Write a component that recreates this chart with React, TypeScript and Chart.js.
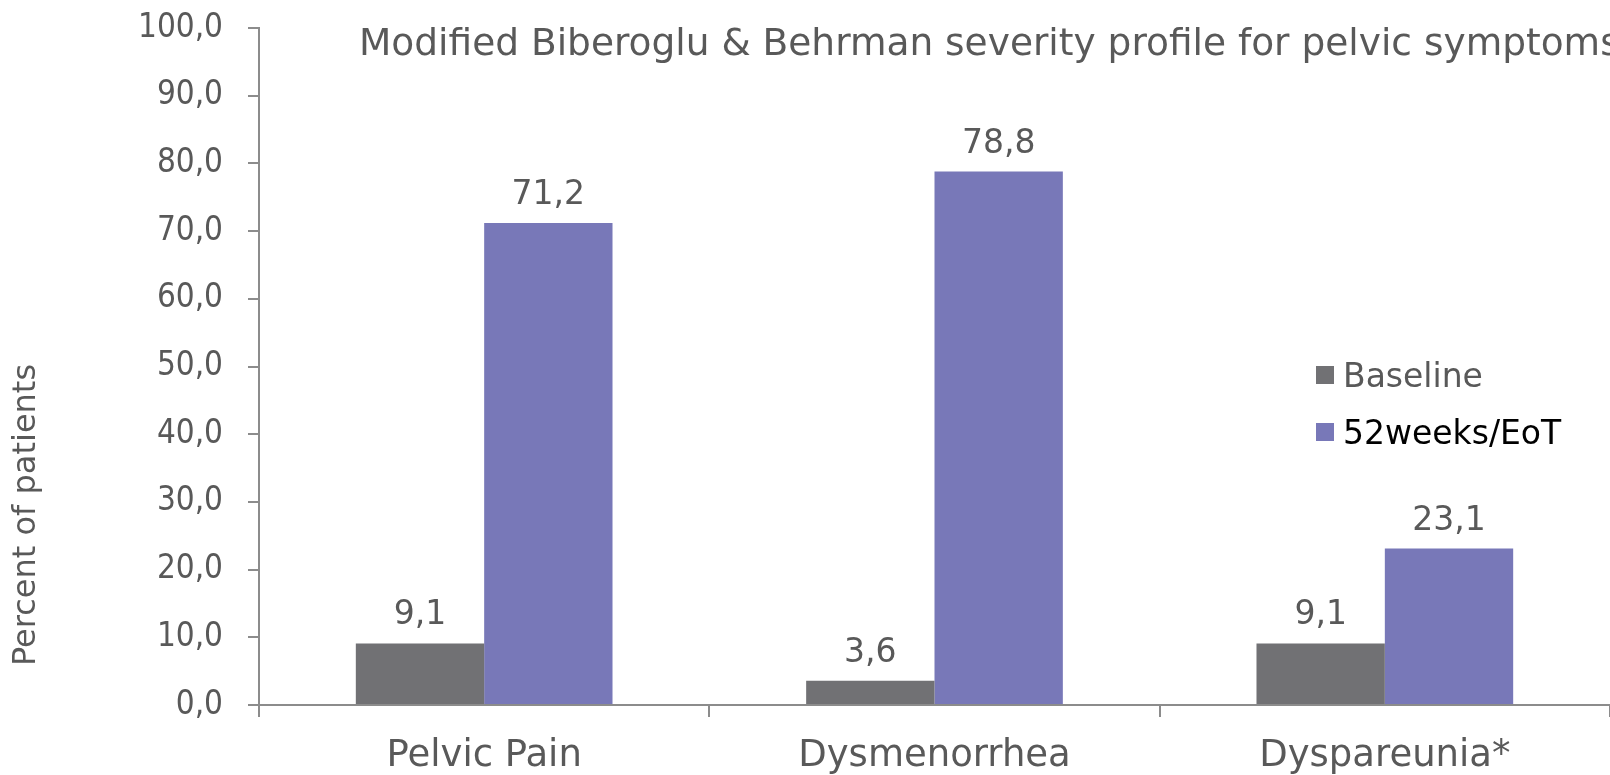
import React, { useEffect, useRef } from "react";
import { Chart, registerables } from "chart.js";

Chart.register(...registerables);

const categories = ["Pelvic Pain", "Dysmenorrhea", "Dyspareunia*"];
const baselineValues = [9.1, 3.6, 9.1];
const eotValues = [71.2, 78.8, 23.1];
const seriesLabels = ["Baseline", "52weeks/EoT"];
const seriesColors = ["#717174", "#7878B8"];
const legendTextColors = ["#595959", "#000000"];
const titleText = "Modified Biberoglu & Behrman severity profile for pelvic symptoms";
const yTitleText = "Percent of patients";

const FONT = "'DejaVu Sans', Verdana, sans-serif";
const FONT_COND = "'DejaVu Sans Condensed', 'DejaVu Sans', sans-serif";
const TEXT = "#595959";
const AXIS = "#8c8c8c";

const fmt = (v: number) => v.toFixed(1).replace(".", ",");

const decorPlugin = {
  id: "decor",
  afterDatasetsDraw(chart: any) {
    const ctx = chart.ctx;
    const area = chart.chartArea;
    ctx.save();
    // data labels
    ctx.font = `33px ${FONT}`;
    ctx.fillStyle = TEXT;
    ctx.textAlign = "center";
    ctx.textBaseline = "alphabetic";
    chart.data.datasets.forEach((ds: any, di: number) => {
      const meta = chart.getDatasetMeta(di);
      meta.data.forEach((bar: any, i: number) => {
        ctx.fillText(fmt(ds.data[i]), bar.x, bar.y - 19);
      });
    });
    // title
    ctx.font = `37.5px ${FONT}`;
    ctx.textAlign = "left";
    ctx.fillStyle = TEXT;
    ctx.fillText(titleText, area.left + 100, 55);
    // y axis title
    ctx.save();
    ctx.translate(35, 515);
    ctx.rotate(-Math.PI / 2);
    ctx.font = `32px ${FONT}`;
    ctx.textAlign = "center";
    ctx.fillStyle = TEXT;
    ctx.fillText(yTitleText, 0, 0);
    ctx.restore();
    // legend
    ctx.font = `33px ${FONT}`;
    ctx.textAlign = "left";
    ctx.textBaseline = "alphabetic";
    seriesLabels.forEach((lab, i) => {
      const cy = 375 + i * 57;
      ctx.fillStyle = seriesColors[i];
      ctx.fillRect(1316, cy - 9, 18, 18);
      ctx.fillStyle = legendTextColors[i];
      ctx.fillText(lab, 1343, cy + 12);
    });
    ctx.restore();
  },
};

export default function App() {
  const ref = useRef<HTMLCanvasElement | null>(null);
  useEffect(() => {
    document.body.style.margin = "0";
    const canvas = ref.current!;
    const chart = new Chart(canvas, {
      type: "bar",
      data: {
        labels: categories,
        datasets: [
          { label: seriesLabels[0], data: baselineValues, backgroundColor: seriesColors[0], categoryPercentage: 0.57, barPercentage: 1.0 },
          { label: seriesLabels[1], data: eotValues, backgroundColor: seriesColors[1], categoryPercentage: 0.57, barPercentage: 1.0 },
        ],
      },
      options: {
        responsive: false,
        animation: false,
        devicePixelRatio: 1,
        layout: { padding: { left: 0, top: 28, right: -8, bottom: 0 } },
        plugins: {
          legend: { display: false },
          title: { display: false },
          tooltip: { enabled: false },
        },
        scales: {
          x: {
            afterFit: (s: any) => { s.height = 70; s.paddingLeft = 0; s.paddingRight = 0; },
            grid: { display: true, drawOnChartArea: false, drawTicks: true, tickLength: 12, color: AXIS, lineWidth: 2, offset: true },
            border: { display: true, color: AXIS, width: 2 },
            ticks: { font: { family: FONT, size: 37 }, color: TEXT, padding: 17, maxRotation: 0, autoSkip: false },
          },
          y: {
            min: 0,
            max: 100,
            afterFit: (s: any) => { s.width = 259; s.paddingTop = 0; s.paddingBottom = 0; },
            grid: { display: true, drawOnChartArea: false, drawTicks: true, tickLength: 11, color: AXIS, lineWidth: 2 },
            border: { display: true, color: AXIS, width: 2 },
            ticks: { stepSize: 10, font: { family: FONT_COND, size: 33 }, color: TEXT, padding: 25, callback: (v: any) => fmt(Number(v)) },
          },
        },
      },
      plugins: [decorPlugin],
    });
    return () => chart.destroy();
  }, []);
  return (
    <div style={{ position: "absolute", left: 0, top: 0, width: 1610, height: 775 }}>
      <canvas ref={ref} width={1610} height={775} style={{ width: 1610, height: 775, display: "block" }} />
    </div>
  );
}
